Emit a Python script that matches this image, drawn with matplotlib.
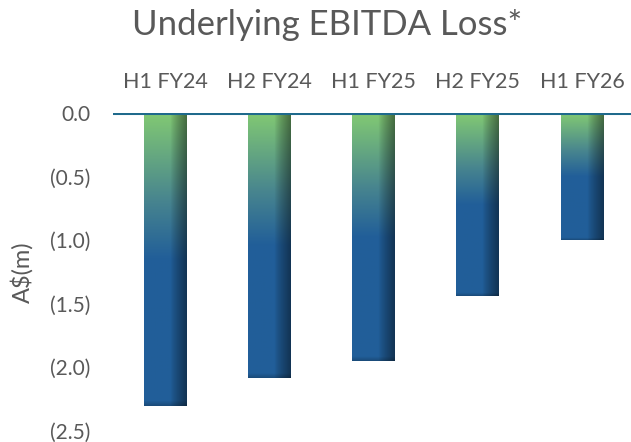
import numpy as np
import matplotlib
matplotlib.use("Agg")
import matplotlib.pyplot as plt

categories = ["H1 FY24", "H2 FY24", "H1 FY25", "H2 FY25", "H1 FY26"]
values = [-2.31, -2.09, -1.95, -1.44, -1.00]
yticks = [0.0, -0.5, -1.0, -1.5, -2.0, -2.5]
ytick_labels = ["0.0", "(0.5)", "(1.0)", "(1.5)", "(2.0)", "(2.5)"]

plt.rcParams['font.family'] = ['Lato', 'DejaVu Sans']
TXT = "#595959"

fig = plt.figure(figsize=(6.31, 4.42), dpi=100)
ax = fig.add_axes([113/631, 1-430.5/442, 521/631, (430.5-113)/442])

green = np.array([0.51, 0.79, 0.45])
teal = np.array([0.28, 0.52, 0.56])
blue = np.array([0.13, 0.37, 0.60])

def bar_image(ny=300, nx=80):
    t = np.linspace(0, 1, ny)
    col = np.zeros((ny, 3))
    for i, tv in enumerate(t):
        if tv < 0.3:
            f = tv / 0.3
            c = green * (1 - f) + teal * f
        elif tv < 0.5:
            f = (tv - 0.3) / 0.2
            c = teal * (1 - f) + blue * f
        else:
            c = blue
        col[i] = c
    s = np.linspace(0, 1, nx)
    shade = np.ones(nx)
    m = s > 0.62
    shade[m] = 1 - 0.45 * ((s[m] - 0.62) / 0.38) ** 0.8
    img = col[:, None, :] * shade[None, :, None]
    bot = np.ones(ny)
    bot[-6:] = np.linspace(1, 0.8, 6)
    img = img * bot[:, None, None]
    return np.clip(img, 0, 1)

w = 0.41
for i, v in enumerate(values):
    ax.imshow(bar_image(), extent=(i - w/2, i + w/2, v, 0), aspect='auto',
              interpolation='bilinear', zorder=2)

ax.set_xlim(-0.5, len(categories) - 0.5)
ax.set_ylim(-2.5, 0.0)
ax.axhline(0, color="#1f6a8c", lw=2.2, zorder=3)

for s in ax.spines.values():
    s.set_visible(False)
ax.set_yticks(yticks)
ax.set_yticklabels(ytick_labels, fontsize=15, color=TXT)
ax.tick_params(axis='y', length=0, pad=16.5)
ax.set_xticks(range(len(categories)))
ax.set_xticklabels(categories, fontsize=15.5, color=TXT)
ax.xaxis.tick_top()
ax.tick_params(axis='x', length=0, pad=15)
ax.set_ylabel("A$(m)", fontsize=17, color=TXT)
ax.yaxis.set_label_coords(-0.153, 0.50)

fig.text(327/631, 1-25/442, "Underlying EBITDA Loss*", fontsize=25, color=TXT,
         ha='center', va='center')

fig.savefig("out.png", dpi=100)
